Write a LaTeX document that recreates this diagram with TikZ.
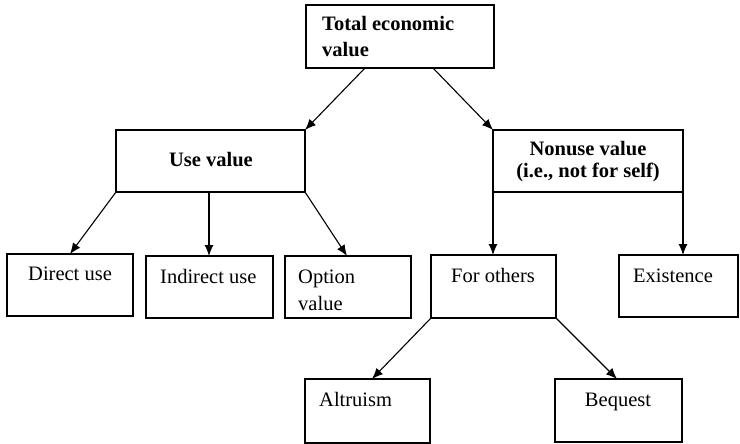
\documentclass[tikz,border=0pt]{standalone}
\usepackage{fontspec}
\setmainfont{Liberation Serif}
\usetikzlibrary{arrows.meta}
\begin{document}
\begin{tikzpicture}[x=1pt,y=-1pt,
  box/.style={draw, line width=1.1pt, inner sep=0pt, outer sep=0pt},
  txt/.style={inner sep=0pt, anchor=base west, font=\fontsize{20.5}{25}\selectfont},
  btxt/.style={inner sep=0pt, anchor=base, font=\fontsize{20.5}{25}\selectfont\bfseries},
  ctxt/.style={inner sep=0pt, anchor=base, font=\fontsize{20.5}{25}\selectfont},
  arr/.style={line width=1.1pt, -{Latex[length=11pt,width=9pt]}}]
\useasboundingbox (0,0) rectangle (740,444);
% boxes
\node[box, minimum width=188pt, minimum height=63pt] (tot) at (400,36.5) {};
\node[box, minimum width=189pt, minimum height=62pt] (use) at (210.5,161) {};
\node[box, minimum width=190pt, minimum height=62pt] (non) at (588,161) {};
\node[box, minimum width=126pt, minimum height=62pt] (dir) at (70,285) {};
\node[box, minimum width=127pt, minimum height=62pt] (ind) at (209.5,287) {};
\node[box, minimum width=126pt, minimum height=62pt] (opt) at (348,287) {};
\node[box, minimum width=125pt, minimum height=63pt] (oth) at (493.5,286.5) {};
\node[box, minimum width=119pt, minimum height=62pt] (exi) at (678.5,286) {};
\node[box, minimum width=125pt, minimum height=64pt] (alt) at (367.5,411) {};
\node[box, minimum width=127pt, minimum height=63pt] (beq) at (618.5,410.5) {};
% texts
\node[txt, font=\fontsize{20.5}{25}\selectfont\bfseries] (t1) at (322,31) {Total economic};
\node[txt, font=\fontsize{20.5}{25}\selectfont\bfseries] (t2) at (322,57) {value};
\node[btxt] (u1) at (211,167) {Use value};
\node[btxt] (n1) at (588,155) {Nonuse value};
\node[btxt] (n2) at (588,177) {(i.e., not for self)};
\node[txt] (d1) at (28,280) {Direct use};
\node[txt] (i1) at (160,283) {Indirect use};
\node[txt] (o1) at (298,283) {Option};
\node[txt] (o2) at (298,310) {value};
\node[ctxt] (f1) at (493,282) {For others};
\node[txt] (e1) at (633,282) {Existence};
\node[txt] (a1) at (319,406) {Altruism};
\node[ctxt] (b1) at (618,406) {Bequest};
% connectors
\draw[arr] (tot.south -| 365,0) -- (use.north east);
\draw[arr] (tot.south -| 433,0) -- (non.north west);
\draw[arr] (use.south west) -- (dir.north -| 70,0);
\draw[arr] (use.south -| 209,0) -- (ind.north -| 209,0);
\draw[arr] (use.south east) -- (opt.north -| 347,0);
\draw[arr] (non.south -| 493,0) -- (oth.north -| 493,0);
\draw[arr] (non.south east) -- (exi.north -| 683,0);
\draw[arr] (oth.south west) -- (alt.north -| 372,0);
\draw[arr] (oth.south east) -- (beq.north -| 617,0);
\end{tikzpicture}
\end{document}
